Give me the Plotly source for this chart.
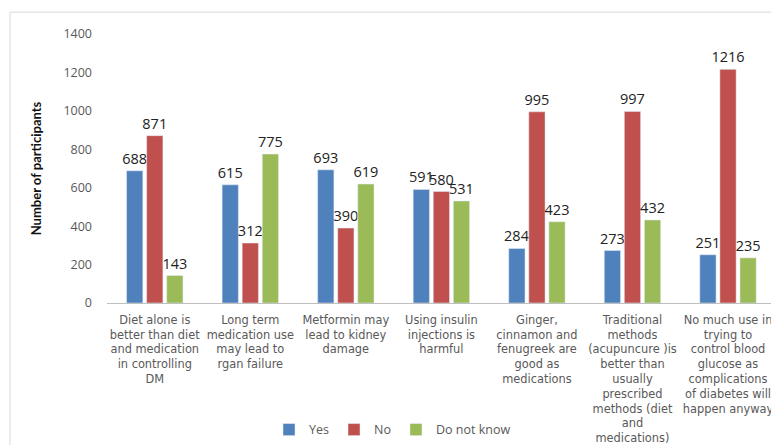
import plotly.graph_objects as go

categories = [
    "Diet alone is<br>better than diet<br>and medication<br>in controlling<br>DM",
    "Long term<br>medication use<br>may lead to<br>rgan failure",
    "Metformin may<br>lead to kidney<br>damage",
    "Using insulin<br>injections is<br>harmful",
    "Ginger,<br>cinnamon and<br>fenugreek are<br>good as<br>medications",
    "Traditional<br>methods<br>(acupuncure )is<br>better than<br>usually<br>prescribed<br>methods (diet<br>and<br>medications)",
    "No much use in<br>trying to<br>control blood<br>glucose as<br>complications<br>of diabetes will<br>happen anyway",
]
yes_vals = [688, 615, 693, 591, 284, 273, 251]
no_vals = [871, 312, 390, 580, 995, 997, 1216]
dnk_vals = [143, 775, 619, 531, 423, 432, 235]
y_ticks = [0, 200, 400, 600, 800, 1000, 1200, 1400]

series = [("Yes", yes_vals, "#4F81BD"), ("No", no_vals, "#C0504D"), ("Do not know", dnk_vals, "#9BBB59")]

fig = go.Figure()
for name, vals, col in series:
    fig.add_trace(go.Bar(
        x=list(range(len(categories))), y=vals, name=name, marker_color=col,
        text=[str(v) for v in vals], textposition="outside", cliponaxis=False,
        textfont=dict(family="Open Sans, sans-serif", size=14.5, color="#222222"),
    ))

fig.update_layout(
    width=771, height=445,
    margin=dict(l=107, r=0, t=34, b=140),
    paper_bgcolor="white", plot_bgcolor="white",
    barmode="group", bargap=0.37, bargroupgap=0.19,
    uniformtext=dict(minsize=14, mode="show"),
    font=dict(family="Open Sans, sans-serif", color="#595959"),
    legend=dict(orientation="h", x=0.43, xanchor="center", y=-0.472, yanchor="middle",
                font=dict(size=12.5, color="#595959"), traceorder="normal", itemwidth=30),
    xaxis=dict(
        tickmode="array", tickvals=list(range(len(categories))), ticktext=categories,
        range=[-0.5, 6.45], tickangle=0, showline=True, linecolor="#BFBFBF", linewidth=1,
        ticks="", tickfont=dict(family="DejaVu Sans, sans-serif", size=11.4, color="#595959"),
        showgrid=False, automargin=False, ticklabeloverflow="allow", ticklabelstandoff=6,
    ),
    yaxis=dict(
        range=[0, 1400], tickvals=y_ticks, showgrid=False, zeroline=False, showline=False,
        tickfont=dict(size=12.5, color="#595959"), ticklabelstandoff=14, automargin=False,
        title=dict(text="<b>Number of participants</b>",
                   font=dict(family="Lato, sans-serif", size=13, color="#111111"), standoff=18),
    ),
    shapes=[dict(type="rect", xref="paper", yref="paper",
                 x0=-97/664, x1=1.05, y0=-0.6, y1=(305-12)/271,
                 line=dict(color="#D9D9D9", width=1), fillcolor="rgba(0,0,0,0)", layer="below")],
)

fig.write_html("out.html")
